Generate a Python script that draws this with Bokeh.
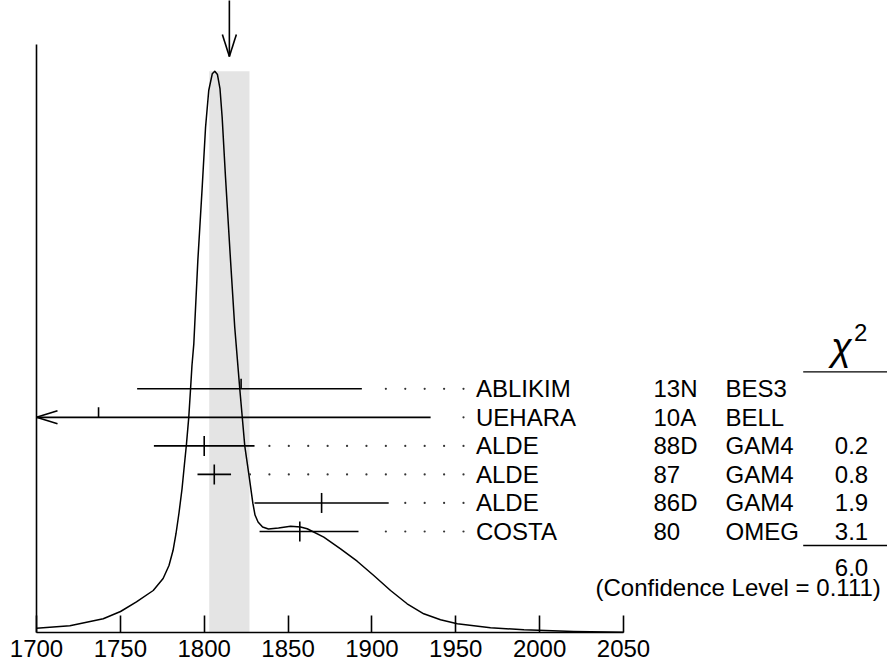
from bokeh.plotting import figure
from bokeh.models import Range1d, FixedTicker, LinearAxis, ColumnDataSource
from bokeh.core.properties import value
from bokeh.embed import file_html
from bokeh.resources import INLINE

# ---------------- data ----------------
curve_mass = [1700.0, 1719.9, 1739.8, 1750.1, 1759.6, 1769.6, 1775.5, 1779.0, 1781.4, 1783.2,
              1785.0, 1786.8, 1788.2, 1789.4, 1790.8, 1791.8, 1792.7, 1793.8, 1796.2, 1798.8,
              1800.8, 1802.7, 1804.8, 1806.3, 1807.9, 1809.4, 1810.7, 1812.7, 1815.7, 1818.2,
              1821.2, 1824.2, 1826.6, 1829.0, 1830.3, 1832.1, 1834.8, 1838.3, 1844.3, 1851.5,
              1857.4, 1861.4, 1871.3, 1881.3, 1891.2, 1901.1, 1911.1, 1921.0, 1930.9, 1940.9,
              1950.9, 1970.7, 1990.6, 2020.4, 2050.0]
curve_ideo = [0.0077, 0.0120, 0.0245, 0.0375, 0.0545, 0.0750, 0.0964, 0.1196, 0.1464, 0.1768,
              0.2143, 0.2571, 0.3000, 0.3357, 0.3845, 0.4321, 0.4768, 0.5155, 0.6643, 0.7952,
              0.9023, 0.9679, 0.9977, 1.0023, 0.9964, 0.9714, 0.9202, 0.8130, 0.6643, 0.5452,
              0.4352, 0.3327, 0.2827, 0.2309, 0.2098, 0.1973, 0.1884, 0.1848, 0.1866, 0.1898,
              0.1884, 0.1852, 0.1702, 0.1495, 0.1273, 0.1018, 0.0750, 0.0513, 0.0334, 0.0227,
              0.0155, 0.0084, 0.0048, 0.0018, 0.0005]

names = ["ABLIKIM", "UEHARA", "ALDE", "ALDE", "ALDE", "COSTA"]
years = ["13N", "10A", "88D", "87", "86D", "80"]
experiments = ["BES3", "BELL", "GAM4", "GAM4", "GAM4", "OMEG"]
masses = [1822, 1737, 1800, 1806, 1870, 1857]
err_minus = [62, 198, 30, 10, 40, 24]
err_plus = [72, 198, 30, 10, 40, 35]
used_in_fit = [False, False, True, True, True, True]
chi2_labels = ["", "", "0.2", "0.8", "1.9", "3.1"]
chi2_total = "6.0"
confidence_level = "0.111"

avg_mass = 1815.0
avg_err = 12.0

x_ticks = [1700, 1750, 1800, 1850, 1900, 1950, 2000, 2050]
x_tick_labels = ["1700", "1750", "1800", "1850", "1900", "1950", "2000", "2050"]

# ---------------- layout ----------------
W, H = 887, 661
PXM = 1.6771          # pixels per MeV
PXY = 560.0           # pixels per ideogram unit
ORG_X, ORG_Y = 36.0, 632.0   # canvas pixel of (1700, 0)
X_LO, X_HI = x_ticks[0], x_ticks[-1]
x_start = X_LO - ORG_X / PXM
x_end = x_start + W / PXM
y_top = ORG_Y / PXY
y_bot = y_top - H / PXY


def cx(px):
    return x_start + px / PXM


def cy(py):
    return y_top - py / PXY


def mx(n):
    return n / PXM


def my(n):
    return n / PXY


FONT = value("Liberation Sans")
FS = "24px"
LW = 1.6
INK = "black"

p = figure(width=W, height=H, x_range=Range1d(x_start, x_end), y_range=Range1d(y_bot, y_top),
           output_backend="svg", toolbar_location=None, y_axis_location=None,
           min_border=0, min_border_left=0, min_border_right=0, min_border_top=0, min_border_bottom=0)
p.outline_line_color = None
p.grid.visible = False
p.background_fill_color = "white"
p.border_fill_color = "white"

xa = p.xaxis[0]
xa.fixed_location = 0
xa.bounds = (X_LO, X_HI)
xa.ticker = FixedTicker(ticks=x_ticks, minor_ticks=[])
xa.major_label_overrides = {t: l for t, l in zip(x_ticks, x_tick_labels)}
xa.major_tick_in = 17
xa.major_tick_out = 0
xa.minor_tick_line_color = None
xa.major_label_standoff = 7
xa.major_label_text_font = "Liberation Sans"
xa.major_label_text_font_size = FS
xa.major_label_text_color = INK
xa.axis_line_width = LW
xa.axis_line_color = INK
xa.major_tick_line_width = LW
xa.major_tick_line_color = INK

ya = LinearAxis(fixed_location=X_LO, bounds=(0, cy(44.3)), ticker=FixedTicker(ticks=[]),
                major_tick_line_color=None, minor_tick_line_color=None,
                major_label_text_font_size="0px", axis_line_width=LW, axis_line_color=INK)
p.add_layout(ya, "left")

# average band
band_top = max(curve_ideo)
p.quad(left=[avg_mass - avg_err], right=[avg_mass + avg_err], bottom=[0], top=[band_top],
       fill_color="#e4e4e4", line_color=None)

# average arrow at the top
tip = cy(56)
p.segment(x0=[avg_mass], y0=[tip], x1=[avg_mass], y1=[y_top + my(10)], line_color=INK, line_width=LW)
p.segment(x0=[avg_mass, avg_mass], y0=[tip, tip],
          x1=[avg_mass - mx(7), avg_mass + mx(7)], y1=[tip + my(22), tip + my(22)],
          line_color=INK, line_width=LW)

# ideogram curve
p.line(curve_mass, curve_ideo, line_color=INK, line_width=1.5, line_join="round")

# measurements
ROW0 = cy(388.3)
ROW_STEP = my(28.54)
rows = [ROW0 - i * ROW_STEP for i in range(len(names))]

bx0, bx1, by = [], [], []
tx0, ty0, ty1 = [], [], []
ax0, ay0, ax1, ay1 = [], [], [], []
dots_x, dots_y = [], []
DOT_X0 = cx(463)
DOT_STEP = mx(19.41)
DOT_GAP = mx(13.5)
for m, em, ep, used, yr in zip(masses, err_minus, err_plus, used_in_fit, rows):
    lo = m - em
    hi = m + ep
    bx0.append(max(lo, X_LO))
    bx1.append(hi)
    by.append(yr)
    tx0.append(m)
    ty0.append(yr - my(10) if used else yr)
    ty1.append(yr + my(10))
    if lo < X_LO:
        for s in (1, -1):
            ax0.append(X_LO)
            ay0.append(yr)
            ax1.append(X_LO + mx(21))
            ay1.append(yr + s * my(6.5))
    d = DOT_X0
    while d >= hi + DOT_GAP:
        dots_x.append(d)
        dots_y.append(yr)
        d -= DOT_STEP

p.segment(x0=bx0, y0=by, x1=bx1, y1=by, line_color=INK, line_width=LW)
p.segment(x0=tx0, y0=ty0, x1=tx0, y1=ty1, line_color=INK, line_width=LW)
if ax0:
    p.segment(x0=ax0, y0=ay0, x1=ax1, y1=ay1, line_color=INK, line_width=LW)
p.scatter(dots_x, dots_y, size=2.2, marker="circle", fill_color="#333333", line_color=None)

# text columns
src = ColumnDataSource(dict(y=rows, name=names, year=years, exp=experiments, chi=chi2_labels))
common = dict(text_font=FONT, text_font_size=FS, text_color=INK, text_baseline="middle")
p.text(x=cx(475.5), y="y", text="name", source=src, text_align="left", **common)
p.text(x=cx(653), y="y", text="year", source=src, text_align="left", **common)
p.text(x=cx(725), y="y", text="exp", source=src, text_align="left", **common)
p.text(x=cx(851), y="y", text="chi", source=src, text_align="center", **common)

# chi^2 header and totals
p.text(x=[cx(830.5)], y=[cy(346.5)], text=["χ"], text_font=FONT, text_font_size="38px",
       text_font_style="italic", text_color=INK, text_baseline="middle", text_align="left")
p.text(x=[cx(853.5)], y=[cy(332.0)], text=["2"], text_align="left", **common)
p.segment(x0=[cx(802.7), cx(802.7)], y0=[cy(371.3), cy(545)],
          x1=[x_end + 1, x_end + 1], y1=[cy(371.3), cy(545)], line_color=INK, line_width=1.3)
p.text(x=[cx(851)], y=[cy(566.5)], text=[chi2_total], text_align="center", **common)
p.text(x=[cx(595)], y=[cy(586.7)], text=["(Confidence Level = " + confidence_level + ")"],
       text_align="left", **common)

open("out.html", "w").write(file_html(p, INLINE))
